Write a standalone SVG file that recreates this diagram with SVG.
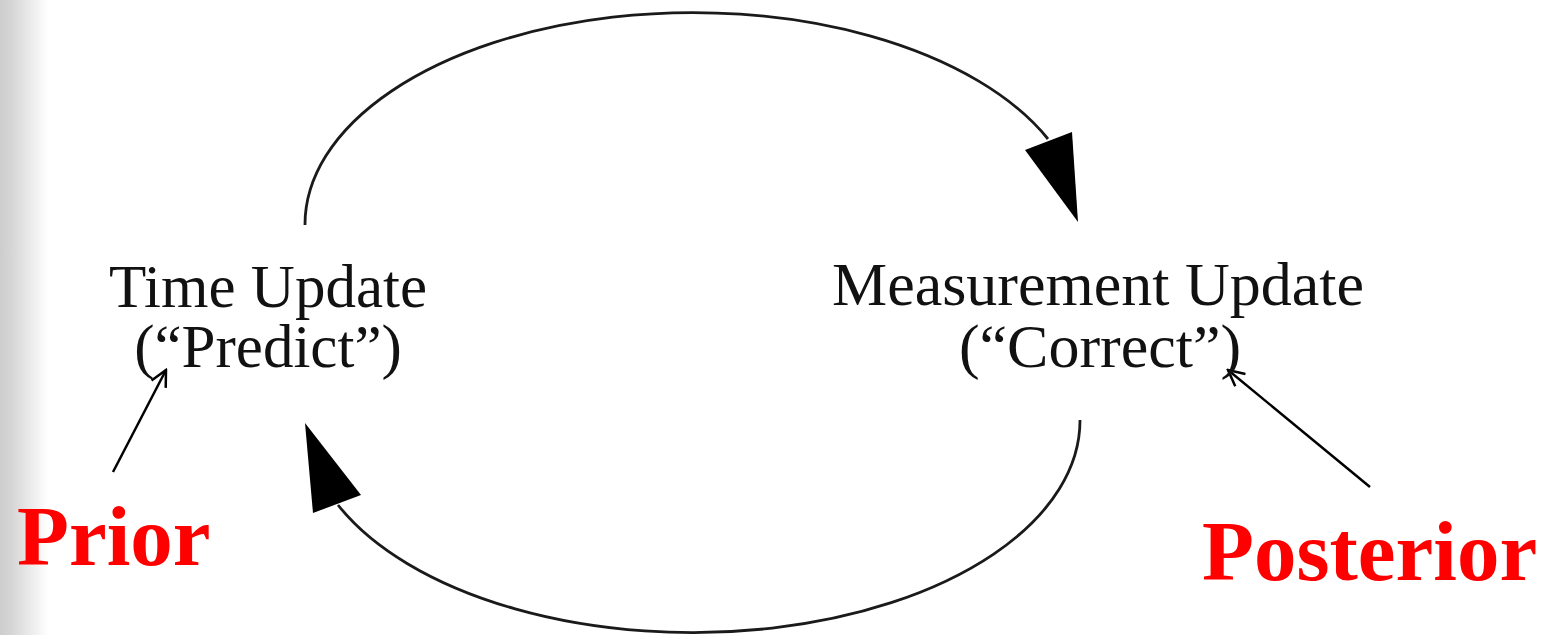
<svg xmlns="http://www.w3.org/2000/svg" width="1550" height="635" viewBox="0 0 1550 635">
  <defs>
    <linearGradient id="strip" x1="0" y1="0" x2="1" y2="0">
      <stop offset="0" stop-color="#cdcdcd"/>
      <stop offset="0.25" stop-color="#d6d6d6"/>
      <stop offset="1" stop-color="#ffffff"/>
    </linearGradient>
    <marker id="open" viewBox="0 0 20 20" refX="18" refY="10" markerWidth="20" markerHeight="20" markerUnits="userSpaceOnUse" orient="auto">
      <path d="M2,2 L18,10 L2,18" fill="none" stroke="#000" stroke-width="2.5"/>
    </marker>
  </defs>
  <style>
    .lbl { font-family: "Liberation Serif", "Times New Roman", serif; font-size: 61px; fill: #111; text-anchor: middle; }
    .red { font-family: "Liberation Serif", "Times New Roman", serif; font-size: 85px; font-weight: bold; fill: #ff0000; }
    .arc { fill: none; stroke: #1a1a1a; stroke-width: 2.8; }
    .head { fill: #000; }
    .ptr { stroke: #000; stroke-width: 2.5; fill: none; marker-end: url(#open); }
  </style>
  <rect width="1550" height="635" fill="#ffffff"/>
  <rect x="0" y="0" width="48" height="635" fill="url(#strip)"/>

  <g id="connectors">
    <path class="arc" d="M305,225 A388,212 0 0 1 1048,139"/>
    <polygon class="head" points="1025,150 1072,132 1078,222"/>
    <path class="arc" d="M1080,420 A387,212 0 0 1 338,505"/>
    <polygon class="head" points="313,513 361,495 305,423"/>
    <line class="ptr" x1="113" y1="472" x2="166" y2="370"/>
    <line class="ptr" x1="1370" y1="487" x2="1228" y2="370"/>
  </g>

  <g id="time-update">
    <text class="lbl" x="268" y="307">Time Update</text>
    <text class="lbl" x="268" y="367">(“Predict”)</text>
  </g>
  <g id="measurement-update">
    <text class="lbl" x="1098" y="305" style="font-size:62px">Measurement Update</text>
    <text class="lbl" x="1100" y="367" style="font-size:62px">(“Correct”)</text>
  </g>
  <g id="prior">
    <text class="red" x="17" y="565">Prior</text>
  </g>
  <g id="posterior">
    <text class="red" x="1202" y="580">Posterior</text>
  </g>
</svg>
